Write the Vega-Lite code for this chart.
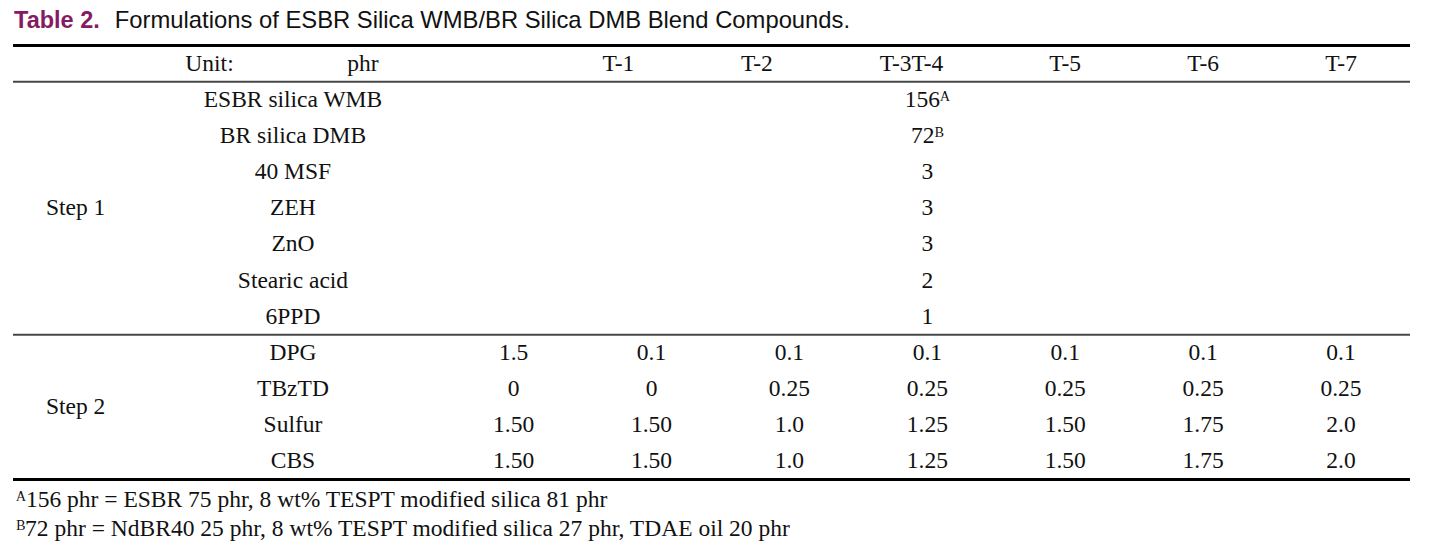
{
  "$schema": "https://vega.github.io/schema/vega-lite/v6.json",
  "width": 1432,
  "height": 548,
  "autosize": {"type": "fit", "contains": "padding"},
  "padding": {"left": 11, "right": 20, "top": 0, "bottom": 0},
  "background": "white",
  "config": {"view": {"stroke": null}},
  "datasets": {
    "lines": [
      {"row": -0.5, "weight": "heavy"},
      {"row": 0.5, "weight": "light"},
      {"row": 7.5, "weight": "light"},
      {"row": 11.5, "weight": "heavy"}
    ],
    "cells": [
      {"kind": "titleBold", "row": -1.19, "col": -2.6226, "text": "Table 2."},
      {"kind": "title", "row": -1.19, "col": -1.892, "text": "Formulations of ESBR Silica WMB/BR Silica DMB Blend Compounds."},
      {"kind": "body", "row": 0, "col": -1.205, "text": "Unit:"},
      {"kind": "body", "row": 0, "col": -0.092, "text": "phr"},
      {"kind": "body", "row": 0, "col": 1.76, "text": "T-1"},
      {"kind": "body", "row": 0, "col": 2.764, "text": "T-2"},
      {"kind": "body", "row": 0, "col": 3.885, "text": "T-3T-4"},
      {"kind": "body", "row": 0, "col": 5, "text": "T-5"},
      {"kind": "body", "row": 0, "col": 6, "text": "T-6"},
      {"kind": "body", "row": 0, "col": 7, "text": "T-7"},
      {"kind": "body", "row": 4, "col": -2.176, "text": "Step 1"},
      {"kind": "body", "row": 9.5, "col": -2.176, "text": "Step 2"},
      {"kind": "body", "row": 1, "col": -0.6, "text": "ESBR silica WMB"},
      {"kind": "body", "row": 2, "col": -0.6, "text": "BR silica DMB"},
      {"kind": "body", "row": 3, "col": -0.6, "text": "40 MSF"},
      {"kind": "body", "row": 4, "col": -0.6, "text": "ZEH"},
      {"kind": "body", "row": 5, "col": -0.6, "text": "ZnO"},
      {"kind": "body", "row": 6, "col": -0.6, "text": "Stearic acid"},
      {"kind": "body", "row": 7, "col": -0.6, "text": "6PPD"},
      {"kind": "body", "row": 8, "col": -0.6, "text": "DPG"},
      {"kind": "body", "row": 9, "col": -0.6, "text": "TBzTD"},
      {"kind": "body", "row": 10, "col": -0.6, "text": "Sulfur"},
      {"kind": "body", "row": 11, "col": -0.6, "text": "CBS"},
      {"kind": "body", "row": 1, "col": 4, "text": "156ᴬ"},
      {"kind": "body", "row": 2, "col": 4, "text": "72ᴮ"},
      {"kind": "body", "row": 3, "col": 4, "text": "3"},
      {"kind": "body", "row": 4, "col": 4, "text": "3"},
      {"kind": "body", "row": 5, "col": 4, "text": "3"},
      {"kind": "body", "row": 6, "col": 4, "text": "2"},
      {"kind": "body", "row": 7, "col": 4, "text": "1"},
      {"kind": "body", "row": 8, "col": 1, "text": "1.5"},
      {"kind": "body", "row": 8, "col": 2, "text": "0.1"},
      {"kind": "body", "row": 8, "col": 3, "text": "0.1"},
      {"kind": "body", "row": 8, "col": 4, "text": "0.1"},
      {"kind": "body", "row": 8, "col": 5, "text": "0.1"},
      {"kind": "body", "row": 8, "col": 6, "text": "0.1"},
      {"kind": "body", "row": 8, "col": 7, "text": "0.1"},
      {"kind": "body", "row": 9, "col": 1, "text": "0"},
      {"kind": "body", "row": 9, "col": 2, "text": "0"},
      {"kind": "body", "row": 9, "col": 3, "text": "0.25"},
      {"kind": "body", "row": 9, "col": 4, "text": "0.25"},
      {"kind": "body", "row": 9, "col": 5, "text": "0.25"},
      {"kind": "body", "row": 9, "col": 6, "text": "0.25"},
      {"kind": "body", "row": 9, "col": 7, "text": "0.25"},
      {"kind": "body", "row": 10, "col": 1, "text": "1.50"},
      {"kind": "body", "row": 10, "col": 2, "text": "1.50"},
      {"kind": "body", "row": 10, "col": 3, "text": "1.0"},
      {"kind": "body", "row": 10, "col": 4, "text": "1.25"},
      {"kind": "body", "row": 10, "col": 5, "text": "1.50"},
      {"kind": "body", "row": 10, "col": 6, "text": "1.75"},
      {"kind": "body", "row": 10, "col": 7, "text": "2.0"},
      {"kind": "body", "row": 11, "col": 1, "text": "1.50"},
      {"kind": "body", "row": 11, "col": 2, "text": "1.50"},
      {"kind": "body", "row": 11, "col": 3, "text": "1.0"},
      {"kind": "body", "row": 11, "col": 4, "text": "1.25"},
      {"kind": "body", "row": 11, "col": 5, "text": "1.50"},
      {"kind": "body", "row": 11, "col": 6, "text": "1.75"},
      {"kind": "body", "row": 11, "col": 7, "text": "2.0"},
      {"kind": "foot", "row": 12.06, "col": -2.608, "text": "ᴬ156 phr = ESBR 75 phr, 8 wt% TESPT modified silica 81 phr"},
      {"kind": "foot", "row": 12.86, "col": -2.608, "text": "ᴮ72 phr = NdBR40 25 phr, 8 wt% TESPT modified silica 27 phr, TDAE oil 20 phr"}
    ]
  },
  "layer": [
    {
      "data": {"name": "lines"},
      "mark": {"type": "rule"},
      "encoding": {
        "y": {"field": "row", "type": "quantitative", "axis": null, "scale": {"domain": [-1.758, 13.393], "reverse": true, "nice": false, "zero": false}},
        "strokeWidth": {"field": "weight", "type": "nominal", "legend": null, "scale": {"domain": ["heavy", "light"], "range": [3, 2]}},
        "color": {"field": "weight", "type": "nominal", "legend": null, "scale": {"domain": ["heavy", "light"], "range": ["#000000", "#474747"]}}
      }
    },
    {
      "data": {"name": "cells"},
      "transform": [{"filter": "datum.kind === 'titleBold'"}],
      "mark": {"type": "text", "font": "Liberation Sans", "fontSize": 23.5, "fontWeight": "bold", "color": "#861a63", "align": "left", "baseline": "middle"},
      "encoding": {
        "x": {"field": "col", "type": "quantitative", "axis": null, "scale": {"domain": [-2.63, 7.5], "nice": false, "zero": false}},
        "y": {"field": "row", "type": "quantitative", "axis": null, "scale": {"domain": [-1.758, 13.393], "reverse": true, "nice": false, "zero": false}},
        "text": {"field": "text", "type": "nominal"}
      }
    },
    {
      "data": {"name": "cells"},
      "transform": [{"filter": "datum.kind === 'title'"}],
      "mark": {"type": "text", "font": "Liberation Sans", "fontSize": 23.8, "color": "#111111", "align": "left", "baseline": "middle"},
      "encoding": {
        "x": {"field": "col", "type": "quantitative", "axis": null, "scale": {"domain": [-2.63, 7.5], "nice": false, "zero": false}},
        "y": {"field": "row", "type": "quantitative", "axis": null, "scale": {"domain": [-1.758, 13.393], "reverse": true, "nice": false, "zero": false}},
        "text": {"field": "text", "type": "nominal"}
      }
    },
    {
      "data": {"name": "cells"},
      "transform": [{"filter": "datum.kind === 'body'"}],
      "mark": {"type": "text", "font": "Liberation Serif", "fontSize": 23.5, "color": "#111111", "align": "center", "baseline": "middle"},
      "encoding": {
        "x": {"field": "col", "type": "quantitative", "axis": null, "scale": {"domain": [-2.63, 7.5], "nice": false, "zero": false}},
        "y": {"field": "row", "type": "quantitative", "axis": null, "scale": {"domain": [-1.758, 13.393], "reverse": true, "nice": false, "zero": false}},
        "text": {"field": "text", "type": "nominal"}
      }
    },
    {
      "data": {"name": "cells"},
      "transform": [{"filter": "datum.kind === 'foot'"}],
      "mark": {"type": "text", "font": "Liberation Serif", "fontSize": 23.5, "color": "#111111", "align": "left", "baseline": "middle"},
      "encoding": {
        "x": {"field": "col", "type": "quantitative", "axis": null, "scale": {"domain": [-2.63, 7.5], "nice": false, "zero": false}},
        "y": {"field": "row", "type": "quantitative", "axis": null, "scale": {"domain": [-1.758, 13.393], "reverse": true, "nice": false, "zero": false}},
        "text": {"field": "text", "type": "nominal"}
      }
    }
  ]
}
